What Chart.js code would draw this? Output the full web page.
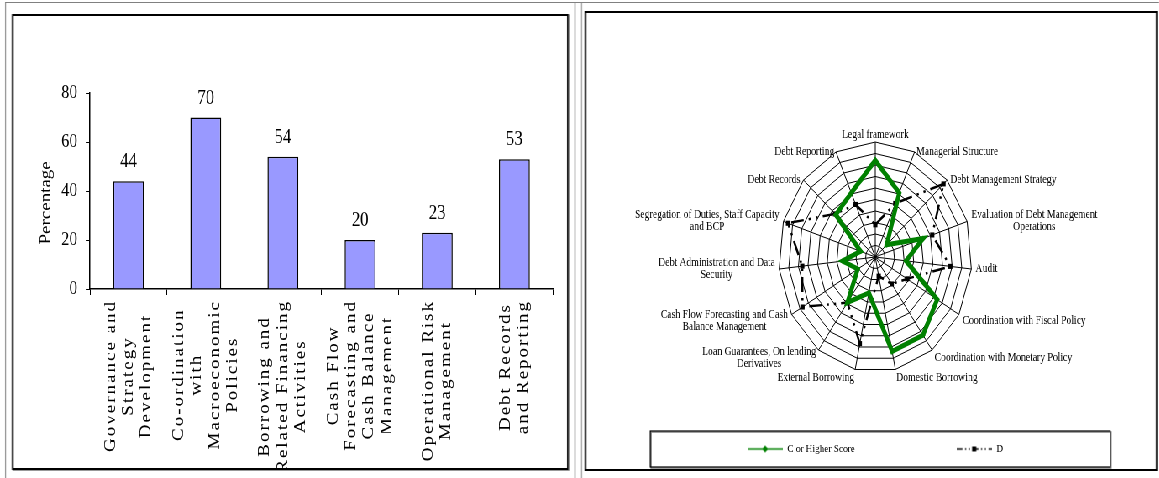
<!DOCTYPE html>
<html>
<head>
<meta charset="utf-8">
<script src="https://cdn.jsdelivr.net/npm/chart.js@4.4.1/dist/chart.umd.min.js"></script>
<style>
  html, body { margin: 0; padding: 0; background: #fff; overflow: hidden; width: 1159px; height: 478px; }
  /* the whole sheet is laid out wide and squeezed horizontally */
  #page { position: absolute; left: 0; top: 0; width: 1380px; height: 478px; transform: scaleX(0.84); transform-origin: 0 0; }
  .rule { position: absolute; background: #808080; }
  .frame { position: absolute; box-sizing: border-box; }
  .holder { position: absolute; }
  canvas { display: block; }
</style>
</head>
<body>
<div id="page">
  <div class="rule" style="left:6px;top:2px;width:1374px;height:1px;"></div>
  <div class="rule" style="left:6px;top:2px;width:1px;height:476px;"></div>
  <div class="rule" style="left:684px;top:2px;width:1px;height:476px;"></div>
  <div class="rule" style="left:692px;top:2px;width:1px;height:476px;"></div>
  <div class="frame" style="left:14px;top:14px;width:663px;height:456px;border:2px solid #000;box-shadow:1px 1px 0 #999;"></div>
  <div class="frame" style="left:696px;top:11px;width:682px;height:460px;border:2px solid #000;"></div>
  <div class="holder" style="left:16px;top:16px;width:658px;height:452px;"><canvas id="bar" width="658" height="452"></canvas></div>
  <div class="holder" style="left:741.7px;top:11px;width:600px;height:459px;"><canvas id="radar" width="600" height="459"></canvas></div>
</div>
<script>
// ---- bar chart data ----
const categories = [
  ['Governance and', 'Strategy', 'Development'],
  ['Co-ordination', 'with', 'Macroeconomic', 'Policies'],
  ['Borrowing and', 'Related Financing', 'Activities'],
  ['Cash Flow', 'Forecasting and', 'Cash Balance', 'Management'],
  ['Operational Risk', 'Management'],
  ['Debt Records', 'and Reporting']
];
const percentages = [44, 70, 54, 20, 23, 53];
const percentTicks = [0, 20, 40, 60, 80];

// ---- radar chart data ----
const radarAxes = [
  'Legal framework',
  'Managerial Structure',
  'Debt Management Strategy',
  ['Evaluation of Debt Management', 'Operations'],
  'Audit',
  'Coordination with Fiscal Policy',
  'Coordination with Monetary Policy',
  'Domestic Borrowing',
  'External Borrowing',
  ['Loan Guarantees, On lending', 'Derivatives'],
  ['Cash Flow Forecasting and Cash', 'Balance Management'],
  ['Debt Administration and Data', 'Security'],
  ['Segregation of Duties, Staff Capacity', 'and BCP'],
  'Debt Records',
  'Debt Reporting'
];
const cOrHigherScore = [84, 61, 16, 52, 32, 74, 84, 84, 32, 49, 21, 34, 16, 55, 61];
const scoreD = [28, 51, 95, 62, 78, 38, 29, 17, 77, 49, 87, 76, 95, 56, 50];
const ringTicks = [0, 10, 20, 30, 40, 50, 60, 70, 80, 90, 100];
const seriesNames = ['C or Higher Score', 'D'];

const SERIF = "'Liberation Serif', 'Times New Roman', serif";

// value printed above each bar
const barValueLabels = {
  id: 'barValueLabels',
  afterDatasetsDraw(chart) {
    const ctx = chart.ctx;
    const meta = chart.getDatasetMeta(0);
    const values = chart.data.datasets[0].data;
    ctx.save();
    ctx.font = '20px ' + SERIF;
    ctx.fillStyle = '#000';
    ctx.textAlign = 'center';
    ctx.textBaseline = 'middle';
    meta.data.forEach((bar, i) => ctx.fillText(String(values[i]), bar.x, bar.y - 19));
    ctx.restore();
  }
};

// vertical category captions, lines centred on each other
const rotatedCategoryLabels = {
  id: 'rotatedCategoryLabels',
  afterDraw(chart) {
    const xs = chart.scales.x;
    const ctx = chart.ctx;
    ctx.save();
    ctx.font = '19px ' + SERIF;
    ctx.letterSpacing = '2px';
    ctx.fillStyle = '#000';
    ctx.textAlign = 'center';
    ctx.textBaseline = 'middle';
    const lineGap = 21.4;
    const top = xs.top + 11;
    chart.data.labels.forEach((lines, i) => {
      const cx = xs.getPixelForValue(i);
      const widest = Math.max(...lines.map(l => ctx.measureText(l).width));
      const cy = top + widest / 2;
      lines.forEach((line, k) => {
        ctx.save();
        ctx.translate(cx + (k - (lines.length - 1) / 2) * lineGap, cy);
        ctx.rotate(-Math.PI / 2);
        ctx.fillText(line, 0, 0);
        ctx.restore();
      });
    });
    ctx.restore();
  }
};

new Chart(document.getElementById('bar'), {
  type: 'bar',
  data: {
    labels: categories,
    datasets: [{
      data: percentages,
      backgroundColor: '#9999ff',
      borderColor: '#000',
      borderWidth: 1.5,
      barPercentage: 0.4,
      categoryPercentage: 1.0
    }]
  },
  options: {
    responsive: false,
    animation: false,
    layout: { padding: { left: 0, top: 77, right: 15.7, bottom: 0 } },
    plugins: { legend: { display: false }, tooltip: { enabled: false } },
    scales: {
      x: {
        offset: true,
        grid: { offset: true, drawOnChartArea: false, drawTicks: true, tickLength: 6, color: '#000', lineWidth: 1 },
        border: { color: '#000', width: 1.5 },
        ticks: { display: false },
        afterFit(s) { s.height = 179; }
      },
      y: {
        min: percentTicks[0],
        max: percentTicks[percentTicks.length - 1],
        afterBuildTicks(s) { s.ticks = percentTicks.map(v => ({ value: v })); },
        grid: { drawOnChartArea: false, tickLength: 5, color: '#000', lineWidth: 1 },
        border: { color: '#000', width: 1.5 },
        ticks: { font: { family: SERIF, size: 19 }, color: '#000', padding: 10 },
        title: {
          display: true,
          // trailing no-break spaces sit the word a little below the axis middle
          text: 'Percentage' + '\u00A0'.repeat(5),
          font: { family: SERIF, size: 19 },
          color: '#000',
          padding: { top: 27.4, bottom: 0 }
        },
        afterFit(s) { s.width = 91.1; }
      }
    }
  },
  plugins: [barValueLabels, rotatedCategoryLabels]
});

// small line-with-marker swatch for the legend
function legendSwatch(color, dash, marker) {
  const c = document.createElement('canvas');
  c.width = 42; c.height = 9;
  const g = c.getContext('2d');
  g.strokeStyle = color;
  g.lineWidth = 1.5;
  g.setLineDash(dash);
  g.beginPath(); g.moveTo(0, 4.5); g.lineTo(42, 4.5); g.stroke();
  g.setLineDash([]);
  g.fillStyle = color;
  if (marker === 'diamond') {
    g.beginPath(); g.moveTo(21, 1); g.lineTo(24.5, 4.5); g.lineTo(21, 8); g.lineTo(17.5, 4.5); g.closePath(); g.fill();
  } else {
    g.fillRect(18.5, 2, 5, 5);
  }
  return c;
}

// captions around the web, centred line by line
const axisCaptions = {
  id: 'axisCaptions',
  afterDraw(chart) {
    const r = chart.scales.r;
    const ctx = chart.ctx;
    const n = chart.data.labels.length;
    ctx.save();
    ctx.font = '11.5px ' + SERIF;
    ctx.fillStyle = '#000';
    ctx.textAlign = 'center';
    ctx.textBaseline = 'middle';
    const lh = 12;
    chart.data.labels.forEach((label, i) => {
      const lines = Array.isArray(label) ? label : [label];
      const deg = i * 360 / n;
      const a = deg * Math.PI / 180;
      const edge = r.getPointPosition(i, r.drawingArea + 5);
      const vertex = r.getPointPosition(i, r.drawingArea);
      const w = Math.max(...lines.map(l => ctx.measureText(l).width));
      let cx, cy = vertex.y;
      if (deg === 0) { cx = edge.x; cy = vertex.y - 7; }
      else if (deg < 180) { cx = edge.x + w / 2; }
      else { cx = edge.x - w / 2; }
      if (deg >= 120 && deg <= 240) cy += 4 + 5 * (-Math.cos(a));
      lines.forEach((l, k) => ctx.fillText(l, cx, cy + (k - (lines.length - 1) / 2) * lh));
    });
    ctx.restore();
  }
};

// frame drawn round the legend row
const legendFrame = {
  id: 'legendFrame',
  afterDraw(chart) {
    const ctx = chart.ctx;
    ctx.save();
    ctx.strokeStyle = '#808080';
    ctx.lineWidth = 1.5;
    ctx.strokeRect(33.1, 421, 547.6, 36);
    ctx.strokeStyle = '#000';
    ctx.lineWidth = 1.2;
    ctx.strokeRect(32.1, 420, 547.6, 36);
    ctx.restore();
  }
};

const lineDashD = [15, 6, 2.5, 6, 2.5, 6];

new Chart(document.getElementById('radar'), {
  type: 'radar',
  data: {
    labels: radarAxes,
    datasets: [{
      label: seriesNames[0],
      data: cOrHigherScore,
      borderColor: '#008000',
      backgroundColor: '#008000',
      borderWidth: 5,
      fill: false,
      pointStyle: 'rectRot',
      pointRadius: 3,
      pointBorderWidth: 0,
      pointBackgroundColor: '#008000'
    }, {
      label: seriesNames[1],
      data: scoreD,
      borderColor: '#000',
      backgroundColor: '#000',
      borderWidth: 2.5,
      borderDash: lineDashD,
      fill: false,
      pointStyle: 'rect',
      pointRadius: 3.6,
      pointBorderWidth: 0,
      pointBackgroundColor: '#000'
    }]
  },
  options: {
    responsive: false,
    animation: false,
    layout: { padding: { left: 0, right: 0, top: 131, bottom: 5.5 } },
    elements: { line: { tension: 0 } },
    plugins: {
      tooltip: { enabled: false },
      legend: {
        position: 'bottom',
        labels: {
          usePointStyle: true,
          pointStyleWidth: 42,
          padding: 71.5,
          color: '#000',
          font: { family: SERIF, size: 11 },
          generateLabels(chart) {
            return chart.data.datasets.map((ds, i) => ({
              text: i === 0 ? ds.label + '\u00A0'.repeat(18) : ds.label,
              pointStyle: i === 0 ? legendSwatch('#008000', [], 'diamond') : legendSwatch('#000', [7, 3, 1.5, 3, 1.5, 3], 'square'),
              fillStyle: ds.borderColor,
              strokeStyle: ds.borderColor,
              lineWidth: 0,
              fontColor: '#000',
              hidden: false,
              datasetIndex: i
            }));
          }
        }
      }
    },
    scales: {
      r: {
        min: ringTicks[0],
        max: ringTicks[ringTicks.length - 1],
        afterBuildTicks(s) { s.ticks = ringTicks.map(v => ({ value: v })); },
        ticks: { display: false },
        grid: { color: '#000', lineWidth: 1 },
        angleLines: { color: '#000', lineWidth: 1 },
        pointLabels: { display: false }
      }
    }
  },
  plugins: [axisCaptions, legendFrame]
});
</script>
</body>
</html>
